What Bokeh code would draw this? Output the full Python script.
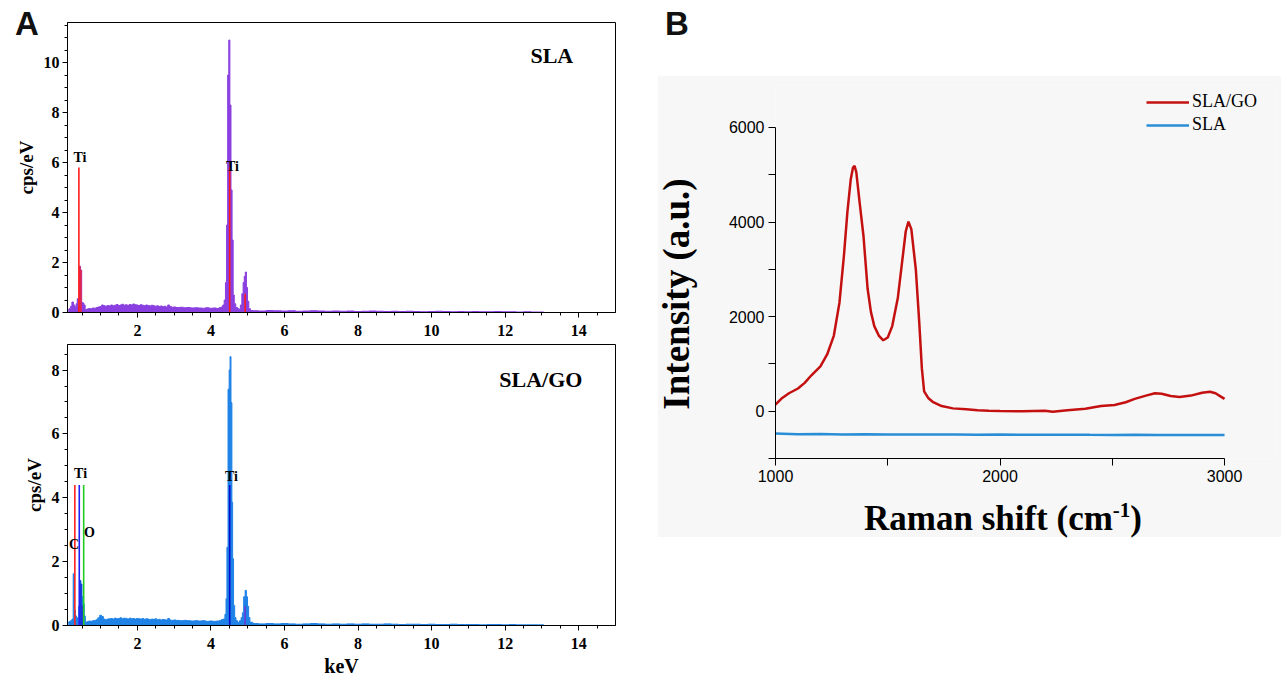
from bokeh.plotting import figure
from bokeh.models import Label, Legend, LegendItem, Div, Spacer, Range1d, FixedTicker
from bokeh.layouts import row, column
from bokeh.embed import file_html
from bokeh.resources import INLINE
from bokeh.core.properties import value

SERIF = "Liberation Serif"
SANS = "Liberation Sans"

# ---------------- Panel A (EDS) data ----------------
bg1_kev = [0.60, 0.65, 0.70, 0.75, 0.80, 0.85, 0.90, 0.95, 1.00, 1.05, 1.10, 1.15, 1.20, 1.25,
           1.30, 1.35, 1.40, 1.45, 1.50, 1.55, 1.60, 1.65, 1.70, 1.75, 1.80, 1.85, 1.90, 1.95,
           2.00, 2.05, 2.10, 2.15, 2.20, 2.25, 2.30, 2.35, 2.40, 2.45, 2.50, 2.55, 2.60, 2.65,
           2.70, 2.75, 2.80, 2.85, 2.90, 2.95, 3.00, 3.10, 3.20, 3.30, 3.40, 3.50, 3.60, 3.70,
           3.80, 3.90, 4.00, 4.10, 4.20]
sla_low_kev = [0.12, 0.16, 0.20, 0.24, 0.28, 0.32, 0.35, 0.38, 0.41, 0.44, 0.47, 0.50, 0.53, 0.56]
sla_low_cps = [0.12, 0.15, 0.25, 0.42, 0.30, 0.22, 0.35, 0.55, 0.30, 1.85, 1.70, 0.40, 0.38, 0.30]
sla_bg_cps = [0.12, 0.14, 0.16, 0.15, 0.18, 0.17, 0.20, 0.22, 0.24, 0.30, 0.27, 0.25, 0.28, 0.26,
              0.30, 0.27, 0.29, 0.32, 0.28, 0.30, 0.33, 0.29, 0.31, 0.28, 0.32, 0.30, 0.34, 0.31,
              0.30, 0.28, 0.31, 0.29, 0.27, 0.30, 0.28, 0.26, 0.29, 0.27, 0.25, 0.27, 0.24, 0.26,
              0.23, 0.25, 0.22, 0.30, 0.24, 0.21, 0.22, 0.20, 0.21, 0.19, 0.20, 0.18, 0.19, 0.18,
              0.17, 0.19, 0.17, 0.18, 0.16]
sla_peak_kev = [4.25, 4.30, 4.34, 4.38, 4.41, 4.44, 4.47, 4.50, 4.53, 4.56, 4.59, 4.62, 4.65,
                4.70, 4.75, 4.78, 4.82, 4.86, 4.89, 4.92, 4.95, 4.98, 5.01, 5.05, 5.10]
sla_peak_cps = [0.20, 0.22, 0.30, 0.50, 1.20, 3.50, 9.50, 10.9, 8.30, 4.90, 2.90, 0.70, 0.35,
                0.20, 0.15, 0.13, 0.30, 0.75, 1.20, 1.45, 1.62, 1.00, 0.45, 0.15, 0.08]
tail_kev = [5.2, 5.4, 5.6, 5.8, 6.0, 6.2, 6.4, 6.6, 6.8, 7.0, 7.2, 7.4, 7.6, 7.8, 8.0, 8.2, 8.4,
            8.6, 8.8, 9.0, 9.2, 9.4, 9.6, 9.8, 10.0, 10.2, 10.4, 10.6, 10.8, 11.0, 11.2, 11.4,
            11.6, 11.8, 12.0, 12.2, 12.4, 12.6, 12.8, 13.0, 13.1]
sla_tail_cps = [0.07, 0.06, 0.08, 0.07, 0.06, 0.07, 0.05, 0.06, 0.07, 0.06, 0.05, 0.06, 0.05,
                0.06, 0.04, 0.05, 0.06, 0.05, 0.04, 0.05, 0.04, 0.05, 0.04, 0.03, 0.04, 0.05,
                0.04, 0.03, 0.04, 0.03, 0.04, 0.03, 0.03, 0.04, 0.03, 0.03, 0.02, 0.03, 0.02,
                0.02, 0.0]
sla_ti_l_kev = [0.44, 0.47]
sla_ti_l_cps = [1.85, 1.70]
sla_marker_kev = [0.41, 4.51, 4.93]
sla_marker_h = [5.8, 5.8, 0.75]
sla_label_text = ["Ti", "Ti"]
sla_label_kev = [0.26, 4.41]
sla_label_cps = [5.9, 5.55]

go_low_kev = [0.12, 0.16, 0.20, 0.24, 0.27, 0.30, 0.33, 0.36, 0.39, 0.42, 0.45, 0.48, 0.51, 0.54, 0.57]
go_low_cps = [0.10, 0.12, 0.15, 0.20, 1.62, 0.48, 0.30, 0.20, 0.25, 0.60, 1.41, 1.30, 0.90, 0.68, 0.30]
go_bg_cps = [0.10, 0.12, 0.14, 0.13, 0.15, 0.16, 0.18, 0.24, 0.32, 0.28, 0.20, 0.18, 0.20, 0.21,
             0.22, 0.20, 0.23, 0.21, 0.22, 0.24, 0.21, 0.23, 0.22, 0.20, 0.23, 0.21, 0.22, 0.20,
             0.22, 0.21, 0.20, 0.22, 0.19, 0.21, 0.20, 0.18, 0.20, 0.19, 0.21, 0.18, 0.19, 0.17,
             0.19, 0.18, 0.17, 0.22, 0.17, 0.16, 0.17, 0.16, 0.15, 0.16, 0.15, 0.14, 0.15, 0.14,
             0.15, 0.13, 0.14, 0.13, 0.14]
go_peak_kev = [4.25, 4.30, 4.36, 4.40, 4.42, 4.45, 4.48, 4.51, 4.53, 4.56, 4.58, 4.60, 4.63,
               4.66, 4.70, 4.75, 4.80, 4.84, 4.87, 4.91, 4.95, 4.98, 5.01, 5.04, 5.08]
go_peak_cps = [0.15, 0.18, 0.20, 0.35, 0.84, 2.45, 7.40, 8.00, 8.42, 6.98, 3.86, 2.09, 0.63,
               0.25, 0.15, 0.10, 0.15, 0.25, 0.40, 0.90, 1.10, 0.90, 0.60, 0.25, 0.10]
go_tail_cps = [0.06, 0.05, 0.06, 0.05, 0.06, 0.05, 0.04, 0.05, 0.06, 0.05, 0.04, 0.05, 0.04,
               0.05, 0.04, 0.05, 0.04, 0.04, 0.05, 0.04, 0.03, 0.04, 0.04, 0.03, 0.04, 0.03,
               0.03, 0.04, 0.03, 0.03, 0.03, 0.02, 0.03, 0.03, 0.02, 0.03, 0.02, 0.02, 0.02,
               0.02, 0.0]
go_ti_l_kev = [0.44, 0.47, 0.50]
go_ti_l_cps = [1.41, 1.30, 0.63]
go_marker_kev = [0.30, 0.42, 0.54, 4.51, 4.93]
go_marker_h = [4.4, 4.4, 4.4, 4.4, 0.6]
go_marker_col = ["#ff2020", "#2020ff", "#22cc22", "#0a0ad0", "#6a3ad8"]
go_label_text = ["C", "Ti", "O", "Ti"]
go_label_kev = [0.14, 0.28, 0.55, 4.38]
go_label_cps = [2.3, 4.52, 2.68, 4.42]

xticks = [2, 4, 6, 8, 10, 12, 14]

# ---------------- Panel B (Raman) data ----------------
raman_x = [1000, 1030, 1060, 1100, 1130, 1160, 1200, 1230, 1260, 1285, 1305, 1320, 1335, 1345,
           1352, 1360, 1375, 1392, 1410, 1425, 1440, 1460, 1480, 1500, 1520, 1545, 1565, 1580,
           1592, 1605, 1625, 1640, 1652, 1662, 1680, 1700, 1740, 1790, 1850, 1900, 1950, 2000,
           2100, 2200, 2235, 2300, 2380, 2450, 2510, 2560, 2600, 2650, 2690, 2720, 2760, 2800,
           2850, 2900, 2935, 2960, 2980, 3000]
raman_sla_go = [140, 280, 380, 480, 600, 760, 950, 1200, 1600, 2300, 3300, 4200, 4900, 5150,
                5190, 5050, 4400, 3700, 2600, 2100, 1800, 1600, 1500, 1560, 1800, 2400, 3200, 3800,
                4010, 3850, 3000, 1900, 900, 420, 280, 200, 110, 60, 40, 20, 10, 5,
                0, 10, -10, 20, 50, 110, 130, 190, 260, 330, 380, 370, 320, 300,
                330, 390, 410, 380, 320, 260]
raman_sla_x = [1000, 1100, 1200, 1300, 1400, 1500, 1600, 1700, 1800, 1900, 2000, 2100, 2200,
               2300, 2400, 2500, 2600, 2700, 2800, 2900, 3000]
raman_sla = [-470, -485, -480, -490, -488, -492, -490, -495, -493, -497, -495, -498, -500,
             -497, -500, -502, -500, -503, -502, -505, -505]


def style_axis(ax, ticks, minor, standoff):
    ax.ticker = FixedTicker(ticks=ticks, minor_ticks=minor)
    ax.axis_line_color = "black"
    ax.major_tick_line_color = "black"
    ax.minor_tick_line_color = "black"
    ax.major_tick_out = 5
    ax.major_tick_in = 0
    ax.minor_tick_out = 3
    ax.minor_tick_in = 0
    ax.major_label_text_font = SERIF
    ax.major_label_text_font_style = "bold"
    ax.major_label_text_font_size = "16px"
    ax.major_label_text_color = "black"
    ax.major_label_standoff = standoff
    ax.axis_label_text_font = SERIF
    ax.axis_label_text_font_style = "bold"
    ax.axis_label_text_color = "black"


def eds_panel(height, top, bottom, ymax, yticks, xlabel):
    p = figure(width=648, height=height, x_range=Range1d(0.1, 15.0), y_range=Range1d(0, ymax),
               output_backend="svg", toolbar_location=None,
               min_border_left=67, min_border_right=33, min_border_top=top, min_border_bottom=bottom)
    p.outline_line_color = "black"
    p.outline_line_width = 1
    p.grid.visible = False
    p.background_fill_color = "white"
    p.border_fill_color = "white"
    style_axis(p.xaxis[0], xticks, [0.5 * i for i in range(1, 30)], 7)
    style_axis(p.yaxis[0], yticks, [0.5 * i for i in range(0, int(ymax * 2) + 1)], 3)
    p.yaxis.axis_label = "cps/eV"
    p.yaxis.axis_label_text_font_size = "19px"
    p.yaxis.axis_label_standoff = 4
    if xlabel:
        p.xaxis.axis_label = xlabel
        p.xaxis.axis_label_text_font_size = "20px"
        p.xaxis.axis_label_standoff = 3
    return p


def draw_spectrum(p, kev, cps, color):
    p.varea_step(x=kev, y1=0, y2=cps, step_mode="center", fill_color=color)
    p.step(x=kev, y=cps, mode="center", line_color=color, line_width=1)


# ---- A top: SLA ----
pA1 = eds_panel(343, 22, 31, 11.6, [0, 2, 4, 6, 8, 10], None)
PURPLE = "#8a3fe0"
draw_spectrum(pA1, sla_low_kev + bg1_kev + sla_peak_kev + tail_kev,
              sla_low_cps + sla_bg_cps + sla_peak_cps + sla_tail_cps, PURPLE)
pA1.vbar(x=sla_ti_l_kev, top=sla_ti_l_cps, bottom=0, width=0.028, fill_color="#ff2020", line_color=None)
pA1.segment(x0=sla_marker_kev, y0=0, x1=sla_marker_kev, y1=sla_marker_h, line_color="#ff1a1a", line_width=1.6)
pA1.text(x=sla_label_kev, y=sla_label_cps, text=sla_label_text, text_font=value(SERIF),
         text_font_style="bold", text_font_size="14px", text_align="left", text_baseline="bottom",
         text_color="black")
pA1.add_layout(Label(x=13.85, y=10.3, text="SLA", text_font=SERIF, text_font_style="bold",
                     text_font_size="22px", text_align="right", text_baseline="middle", text_color="black"))

# ---- A bottom: SLA/GO ----
pA2 = eds_panel(336, 1, 52, 8.8, [0, 2, 4, 6, 8], "keV")
BLUE_F = "#1f82e6"
draw_spectrum(pA2, go_low_kev + bg1_kev + go_peak_kev + tail_kev,
              go_low_cps + go_bg_cps + go_peak_cps + go_tail_cps, BLUE_F)
pA2.vbar(x=go_ti_l_kev, top=go_ti_l_cps, bottom=0, width=0.028, fill_color="#1a1ad8", line_color=None)
pA2.segment(x0=go_marker_kev, y0=0, x1=go_marker_kev, y1=go_marker_h, line_color=go_marker_col, line_width=1.6)
pA2.text(x=go_label_kev, y=go_label_cps, text=go_label_text, text_font=value(SERIF),
         text_font_style="bold", text_font_size="14px", text_align="left", text_baseline="bottom",
         text_color="black")
pA2.add_layout(Label(x=14.1, y=7.7, text="SLA/GO", text_font=SERIF, text_font_style="bold",
                     text_font_size="22px", text_align="right", text_baseline="middle", text_color="black"))

ABS = {"position": "absolute", "z-index": "10"}
divA = Div(text='<div style="font: bold 33px Liberation Sans, sans-serif; color:#111; '
                'line-height:33px; padding-left:15px; padding-top:7px;">A</div>',
           width=50, height=45, margin=(0, 0, 0, 0),
           styles=dict(ABS, left="0px", top="0px"))

# ---- B: Raman ----
GRAY = "#f7f7f7"
pB = figure(width=624, height=462, x_range=Range1d(1000, 3227), y_range=Range1d(-1000, 6888),
            output_backend="svg", toolbar_location=None,
            min_border_left=118, min_border_right=6, min_border_top=10, min_border_bottom=79)
pB.background_fill_color = GRAY
pB.border_fill_color = GRAY
pB.outline_line_color = None
pB.grid.visible = False
for ax, ticks, minor in ((pB.xaxis[0], [1000, 2000, 3000], [1500, 2500]),
                         (pB.yaxis[0], [0, 2000, 4000, 6000], [-1000, 1000, 3000, 5000])):
    ax.ticker = FixedTicker(ticks=ticks, minor_ticks=minor)
    ax.axis_line_color = "black"
    ax.major_tick_line_color = "black"
    ax.minor_tick_line_color = "black"
    ax.major_tick_out = 7
    ax.major_tick_in = 0
    ax.minor_tick_out = 7
    ax.minor_tick_in = 0
    ax.major_label_text_font = SANS
    ax.major_label_text_font_size = "16px"
    ax.major_label_text_color = "black"
    ax.major_label_standoff = 4
pB.xaxis.bounds = (1000, 3000)
pB.yaxis.bounds = (-1000, 6000)
pB.xaxis.major_label_standoff = 4
pB.yaxis.major_label_orientation = "horizontal"

r_go = pB.line(raman_x, raman_sla_go, line_color="#c41010", line_width=2.5)
r_sla = pB.line(raman_sla_x, raman_sla, line_color="#2a8ed6", line_width=2.5)
legend = Legend(items=[LegendItem(label="SLA/GO", renderers=[r_go]),
                       LegendItem(label="SLA", renderers=[r_sla])],
                location=(371, 323), padding=0, margin=0, spacing=2,
                glyph_width=43, glyph_height=20, label_height=20, label_standoff=3,
                label_text_font=SERIF, label_text_font_size="18px", label_text_color="black",
                border_line_color=None, background_fill_alpha=0)
pB.add_layout(legend)

# axis titles of panel B (placed over the Raman plot)
ylabB = Div(text='<div style="font: bold 37px Liberation Serif, serif; color:#000; white-space:nowrap; '
                 'text-align:center; line-height:44px; width:300px;">Intensity (a.u.)</div>',
            width=300, height=44, margin=(0, 0, 0, 0),
            styles=dict(ABS, left="527px", top="272px", transform="rotate(-90deg)"))
xlabB = Div(text='<div style="font: bold 35px Liberation Serif, serif; color:#000; white-space:nowrap; '
                 'text-align:center; line-height:44px; width:400px;">Raman shift (cm<sup '
                 'style="font-size:60%; line-height:0;">-1</sup>)</div>',
            width=400, height=44, margin=(0, 0, 0, 0),
            styles=dict(ABS, left="803px", top="497px"))

divB = Div(text='<div style="font: bold 33px Liberation Sans, sans-serif; color:#111; '
                'line-height:33px; padding-left:8px; padding-top:7px;">B</div>',
           width=624, height=75, margin=(0, 0, 0, 0))

layout = row(column(divA, ylabB, xlabB, pA1, pA2), Spacer(width=9, height=10), column(divB, pB))

open("out.html", "w").write(file_html(layout, INLINE))
